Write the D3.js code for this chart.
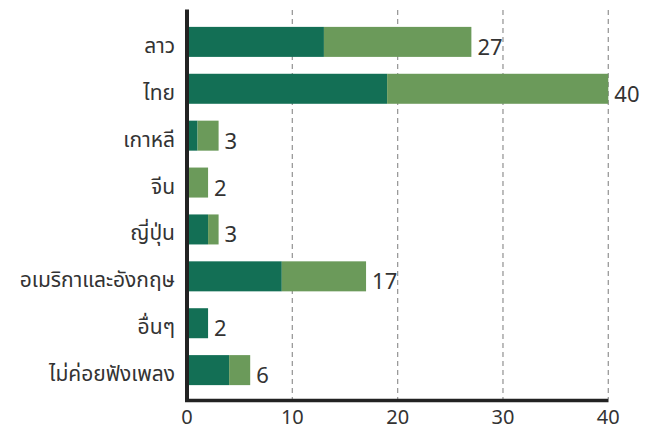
<!DOCTYPE html>
<html>
<head>
<meta charset="utf-8">
<script src="https://cdn.jsdelivr.net/npm/d3@7"></script>
<style>
  html, body { margin: 0; padding: 0; background: #fff; }
  svg { display: block; }
  text { font-family: "Noto Sans Thai", "Noto Sans", "Open Sans", sans-serif; fill: #333; }
</style>
</head>
<body>
<svg id="chart" width="655" height="432"></svg>
<script>
// Music preference by origin: two stacked segments per category
const categories = ["ลาว", "ไทย", "เกาหลี", "จีน", "ญี่ปุ่น", "อเมริกาและอังกฤษ", "อื่นๆ", "ไม่ค่อยฟังเพลง"];
const darkValues = [13, 19, 1, 0, 2, 9, 2, 4];
const lightValues = [14, 21, 2, 2, 1, 8, 0, 2];
const xTicks = [0, 10, 20, 30, 40];

const colors = { dark: "#136f55", light: "#6b9a5a" };

const svg = d3.select("#chart");
const x = d3.scaleLinear().domain([0, 40]).range([187, 608.3]);
const y = d3.scaleBand().domain(categories).range([10, 402]).paddingInner(0.36).paddingOuter(0.36);

const rows = categories.map((c, i) => ({
  cat: c, dark: darkValues[i], light: lightValues[i], total: darkValues[i] + lightValues[i]
}));

// dashed vertical gridlines
svg.append("g").selectAll("line").data(xTicks.filter(t => t > 0)).join("line")
  .attr("x1", d => x(d)).attr("x2", d => x(d))
  .attr("y1", 10).attr("y2", 399)
  .attr("stroke", "#9a9a9a").attr("stroke-width", 1.3)
  .attr("stroke-dasharray", "5,4");

// stacked bars
const g = svg.append("g");
g.selectAll("rect.dark").data(rows).join("rect").attr("class", "dark")
  .attr("x", x(0)).attr("y", d => y(d.cat))
  .attr("width", d => x(d.dark) - x(0)).attr("height", y.bandwidth())
  .attr("fill", colors.dark);
g.selectAll("rect.light").data(rows).join("rect").attr("class", "light")
  .attr("x", d => x(d.dark)).attr("y", d => y(d.cat))
  .attr("width", d => x(d.total) - x(d.dark)).attr("height", y.bandwidth())
  .attr("fill", colors.light);

// totals at bar ends
g.selectAll("text.total").data(rows).join("text").attr("class", "total")
  .attr("x", d => x(d.total) + 6)
  .attr("y", d => y(d.cat) + y.bandwidth() / 2 + 13)
  .attr("font-size", 22)
  .text(d => d.total);

// category labels
svg.append("g").selectAll("text").data(categories).join("text")
  .attr("x", 175)
  .attr("y", d => y(d) + y.bandwidth() / 2 + 11)
  .attr("text-anchor", "end")
  .attr("font-size", 21)
  .text(d => d);

// x-axis tick labels
svg.append("g").selectAll("text").data(xTicks).join("text")
  .attr("x", d => x(d))
  .attr("y", 424)
  .attr("text-anchor", "middle")
  .attr("font-size", 20)
  .text(d => d);

// axis lines
svg.append("line").attr("x1", 187).attr("x2", 187).attr("y1", 9.5).attr("y2", 402)
  .attr("stroke", "#222").attr("stroke-width", 4);
svg.append("line").attr("x1", 185).attr("x2", 608.5).attr("y1", 400.5).attr("y2", 400.5)
  .attr("stroke", "#222").attr("stroke-width", 3.5);
</script>
</body>
</html>
